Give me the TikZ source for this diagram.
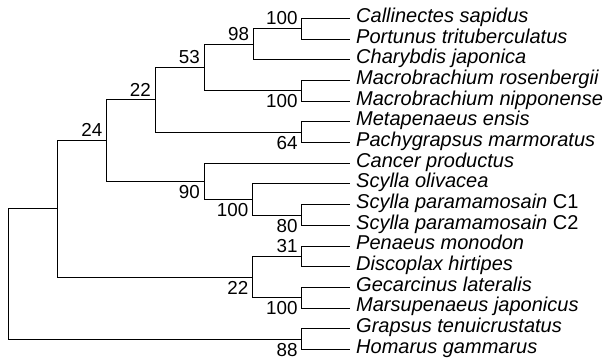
\documentclass[tikz,border=0pt]{standalone}
\usepackage{fontspec}
\setmainfont{Liberation Sans}
\usepackage{tikz}
\usetikzlibrary{calc}
\tikzset{
  branch/.style={draw=black,line width=0.9bp},
  taxon/.style={font=\fontsize{20bp}{20bp}\selectfont\itshape,anchor=base west,
    inner sep=0pt,xshift=6bp,yshift=-3.9bp},
  boot/.style={font=\fontsize{18.8bp}{18.8bp}\selectfont,inner sep=0pt},
  bootup/.style={boot,anchor=south east,xshift=-4bp,yshift=3.5bp},
  bootdown/.style={boot,anchor=north east,xshift=-4bp,yshift=-3.8bp},
}

\begin{document}
\begin{tikzpicture}[x=1bp,y=-1bp]
\useasboundingbox (0,0) rectangle (607,360);

% taxa
\foreach \name [count=\i from 0] in {
  Callinectes sapidus, Portunus trituberculatus, Charybdis japonica,
  Macrobrachium rosenbergii, Macrobrachium nipponense, Metapenaeus ensis,
  Pachygrapsus marmoratus, Cancer productus, Scylla olivacea,
  Scylla paramamosain \textup{C1}, Scylla paramamosain \textup{C2},
  Penaeus monodon, Discoplax hirtipes, Gecarcinus lateralis,
  Marsupenaeus japonicus, Grapsus tenuicrustatus, Homarus gammarus}
{
  \coordinate (t\i) at (350,18.5+20.68*\i);
  \node[taxon] (s\i) at (t\i) {\name};
}

% internal nodes
\coordinate (a) at (301.7,28.85);
\coordinate (b) at (253.3,44.4);
\coordinate (c) at (301.7,90.85);
\coordinate (d) at (204,67.6);
\coordinate (e) at (301.7,132.25);
\coordinate (f) at (155,99.9);
\coordinate (g) at (301.7,214.95);
\coordinate (h) at (252.5,199.4);
\coordinate (i) at (204,181.4);
\coordinate (j) at (106.5,140.6);
\coordinate (k) at (301.7,256.35);
\coordinate (l) at (301.7,297.65);
\coordinate (m) at (252.5,277);
\coordinate (n) at (57.3,208.8);
\coordinate (o) at (301.7,339.05);
\coordinate (root) at (8.3,273.9);

\foreach \p/\c in {a/t0,a/t1,b/a,b/t2,c/t3,c/t4,d/b,d/c,e/t5,e/t6,f/d,f/e,
  g/t9,g/t10,h/t8,h/g,i/t7,i/h,j/f,j/i,k/t11,k/t12,l/t13,l/t14,m/k,m/l,
  n/j,n/m,o/t15,o/t16,root/n,root/o}
  \draw[branch] (\p) |- (\c);

% bootstrap values
\node[bootup]   (ba) at (a) {100};
\node[bootup]   (bb) at (b) {98};
\node[bootdown] (bc) at (c) {100};
\node[bootup]   (bd) at (d) {53};
\node[bootdown] (be) at (e) {64};
\node[bootup]   (bf) at (f) {22};
\node[bootdown] (bg) at (g) {80};
\node[bootdown] (bh) at (h) {100};
\node[bootdown] (bi) at (i) {90};
\node[bootup]   (bj) at (j) {24};
\node[bootup]   (bk) at (k) {31};
\node[bootdown] (bl) at (l) {100};
\node[bootdown] (bm) at (m) {22};
\node[bootdown] (bo) at (o) {88};
\end{tikzpicture}
\end{document}
